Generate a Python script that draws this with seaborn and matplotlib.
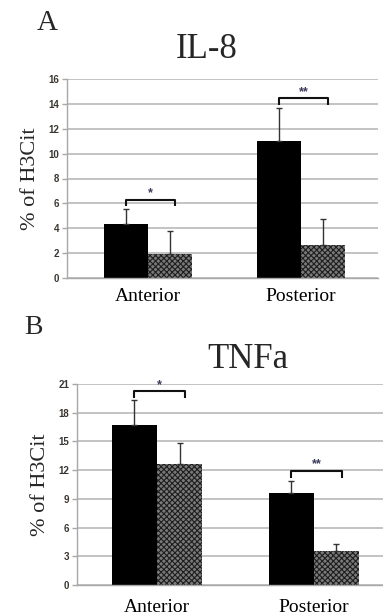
import matplotlib
matplotlib.use('Agg')
import matplotlib.pyplot as plt
import seaborn as sns
import pandas as pd

# ---- data ----
regions = ['Anterior', 'Posterior']
groups = ['Group 1', 'Group 2']

il8_solid = [4.33, 10.99]
il8_hatched = [1.95, 2.65]
il8_solid_err = [1.20, 2.70]
il8_hatched_err = [1.79, 2.06]
il8_bracket_y = [6.28, 14.44]
il8_stars = ['*', '**']
il8_yticks = [0, 2, 4, 6, 8, 10, 12, 14, 16]

tnf_solid = [16.74, 9.66]
tnf_hatched = [12.66, 3.59]
tnf_solid_err = [2.55, 1.22]
tnf_hatched_err = [2.16, 0.70]
tnf_bracket_y = [20.23, 11.93]
tnf_stars = ['*', '**']
tnf_yticks = [0, 3, 6, 9, 12, 15, 18, 21]

SERIF = 'Liberation Serif'
SANS = 'Liberation Sans'

sns.set_style('white')
plt.rcParams['hatch.linewidth'] = 0.8

W, H = 383, 615
fig = plt.figure(figsize=(W / 100, H / 100), dpi=100)


def px_axes(l, r, t, b):
    return fig.add_axes([l / W, 1 - b / H, (r - l) / W, (b - t) / H])


def panel(ax, solid, hatched, solid_err, hatched_err, bracket_y, stars,
          yticks, xlim, drop, xpad):
    df = pd.DataFrame({
        'region': regions * 2,
        'group': [groups[0]] * 2 + [groups[1]] * 2,
        'value': solid + hatched,
    })
    sns.barplot(data=df, x='region', y='value', hue='group',
                palette=['#000000', '#7a7a7a'], saturation=1,
                width=0.575, errorbar=None, legend=False, ax=ax,
                linewidth=0)
    centers = []
    for ci, (cont, errs) in enumerate(zip(ax.containers, [solid_err, hatched_err])):
        cs = []
        for bar, e in zip(cont, errs):
            if ci == 1:
                bar.set_hatch('xxxxxx')
                bar.set_edgecolor('#1e1e1e')
                bar.set_linewidth(0)
            x = bar.get_x() + bar.get_width() / 2
            cs.append(x)
            ax.errorbar(x, bar.get_height(), yerr=[[0], [e]], fmt='none',
                        ecolor='#333333', elinewidth=1.0, capsize=2.2,
                        capthick=1.0, zorder=3)
        centers.append(cs)
    for i in range(len(regions)):
        x0 = centers[0][i]
        x1 = centers[1][i] + 0.035
        y = bracket_y[i]
        ax.plot([x0, x0, x1, x1], [y - drop, y, y, y - drop],
                color='#111111', lw=1.5, solid_capstyle='butt', zorder=4,
                clip_on=False)
        ax.annotate(stars[i], ((x0 + x1) / 2, y), xytext=(0, 0.5),
                    textcoords='offset points', ha='center', va='bottom',
                    fontsize=9, fontweight='bold', color='#3a3a5a',
                    family=SANS, annotation_clip=False)
    ax.set_ylim(yticks[0], yticks[-1])
    ax.set_yticks(yticks)
    ax.set_xlim(*xlim)
    ax.yaxis.grid(True, color='#b3b3b3', lw=1.1)
    ax.set_axisbelow(True)
    for s in ['top', 'right']:
        ax.spines[s].set_visible(False)
    for s in ['left', 'bottom']:
        ax.spines[s].set_color('#a8a8a8')
        ax.spines[s].set_linewidth(1.0)
    ax.tick_params(axis='y', length=3.5, width=1.0, color='#a8a8a8',
                   direction='out', pad=2, left=True)
    ax.tick_params(axis='x', length=0, pad=xpad)
    for lab in ax.get_yticklabels():
        lab.set_fontfamily(SANS)
        lab.set_fontweight('bold')
        lab.set_fontsize(7)
        lab.set_color('#3a3530')
    for lab in ax.get_xticklabels():
        lab.set_fontfamily(SERIF)
        lab.set_fontsize(14)
        lab.set_color('#000000')
    ax.set_xlabel('')
    ax.set_ylabel('% of H3Cit', family=SERIF, fontsize=16, labelpad=6)


ax1 = px_axes(67, 378, 79, 278)
panel(ax1, il8_solid, il8_hatched, il8_solid_err, il8_hatched_err,
      il8_bracket_y, il8_stars, il8_yticks, (-0.53, 1.503), 0.5, 7)

ax2 = px_axes(77, 386, 384, 585)
panel(ax2, tnf_solid, tnf_hatched, tnf_solid_err, tnf_hatched_err,
      tnf_bracket_y, tnf_stars, tnf_yticks, (-0.51, 1.46), 0.7, 10)

fig.text(47 / W, 1 - 23 / H, 'A', family=SERIF, fontsize=21,
         ha='center', va='center')
fig.text(207 / W, 1 - 50 / H, 'IL-8', family=SERIF, fontsize=25,
         ha='center', va='center')
fig.text(33 / W, 1 - 328 / H, 'B', family=SERIF, fontsize=20,
         ha='center', va='center')
fig.text(248 / W, 1 - 360 / H, 'TNFa', family=SERIF, fontsize=25,
         ha='center', va='center')

fig.savefig('out.png', dpi=100)
